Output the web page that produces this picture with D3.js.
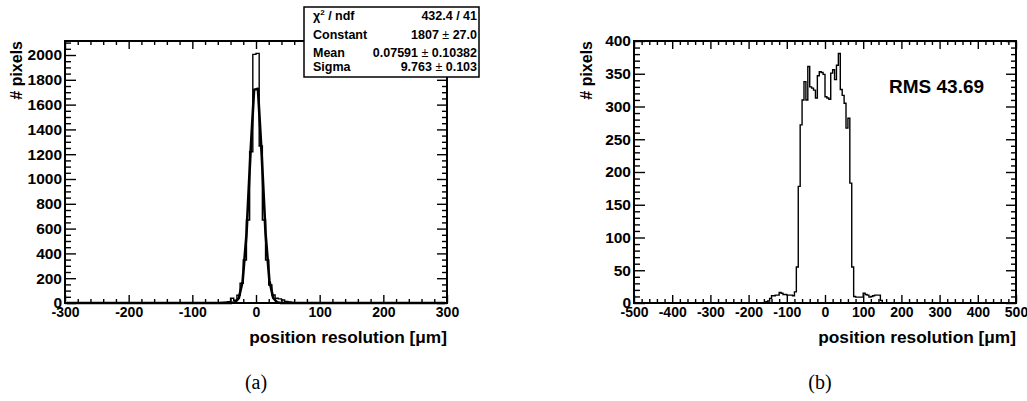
<!DOCTYPE html>
<html>
<head>
<meta charset="utf-8">
<script src="https://cdn.jsdelivr.net/npm/d3@7"></script>
<style>
  html, body { margin: 0; padding: 0; background: #fff; }
  svg { display: block; }
  text { font-family: "Liberation Sans", Arial, Helvetica, sans-serif; font-weight: bold; fill: #000; }
</style>
</head>
<body>
<svg id="fig" width="1027" height="401"></svg>
<script>
// ---- (a) residuals with Gaussian fit, 5 µm bins ----
const aBinWidth = 5;
const aFirstBin = -70;           // low edge of first listed bin; all other bins are empty
const aCounts = [1, 2, 3, 4, 6, 10, 38, 22, 62, 159, 347, 669, 1220, 2005,
                 2013, 1266, 669, 347, 145, 64, 38, 33, 24, 12, 8, 5, 3, 1];
const aRange = [-300, 300];
const aYMax = 2113;
const aXTicks = [-300, -200, -100, 0, 100, 200, 300];
const aYTicks = [0, 200, 400, 600, 800, 1000, 1200, 1400, 1600, 1800, 2000];

// Gaussian fit result
const fitConstant = 1807, fitMean = 0.07591, fitSigma = 9.763;
const fitStats = [
  ["χ2 / ndf", "432.4 / 41"],
  ["Constant", "1807 ± 27.0"],
  ["Mean", "0.07591 ± 0.10382"],
  ["Sigma", "9.763 ± 0.103"]
];

// ---- (b) residuals, 5 µm bins ----
const bBinWidth = 5;
const bFirstBin = -155;
const bCounts = [2, 3, 7, 11, 11, 12, 12, 16, 15, 13, 13, 12, 12, 12, 11, 17,
                 55, 178, 272, 310, 338, 310, 361, 330, 328, 325, 313, 347, 353, 352, 349,
                 315, 313, 311, 351, 356, 341, 363, 381, 326, 317, 305, 267, 282, 183, 55,
                 10, 9, 9, 9, 9, 15, 13, 12, 9, 10, 11, 12, 12, 12, 4];
const bRange = [-500, 500];
const bYMax = 400;
const bXTicks = [-500, -400, -300, -200, -100, 0, 100, 200, 300, 400, 500];
const bYTicks = [0, 50, 100, 150, 200, 250, 300, 350, 400];
const bRms = "RMS 43.69";

const xTitle = "position resolution [μm]";
const yTitle = "# pixels";

const svg = d3.select("#fig");
const plain = d => String(d);   // ASCII hyphen for negative labels

function histPoints(first, width, counts, range) {
  const pts = [[range[0], 0], [first, 0]];
  counts.forEach((c, i) => {
    const lo = first + i * width;
    pts.push([lo, c], [lo + width, c]);
  });
  pts.push([first + counts.length * width, 0], [range[1], 0]);
  return pts;
}

function panel(opts) {
  const { x0, x1, y0, y1, xDomain, yMax, xTicks, xMinorStep, yTicks, yMinorStep } = opts;
  const x = d3.scaleLinear(xDomain, [x0, x1]);
  const y = d3.scaleLinear([0, yMax], [y1, y0]);
  const g = svg.append("g");

  const xMinor = d3.range(xDomain[0], xDomain[1] + 1e-9, xMinorStep).filter(v => !xTicks.includes(v));
  const yMinor = d3.range(0, yMax, yMinorStep).filter(v => !yTicks.includes(v));

  const styleAxis = sel => {
    sel.attr("font-family", null);
    sel.select(".domain").remove();
    sel.selectAll("line").attr("stroke", "#000").attr("stroke-width", 1.4);
  };

  // bottom
  g.append("g").attr("transform", `translate(0,${y1})`)
    .call(d3.axisBottom(x).tickValues(xTicks).tickSize(-8).tickPadding(4).tickFormat(plain))
    .call(styleAxis)
    .call(s => s.selectAll("text").style("font-size", "14px"));
  g.append("g").attr("transform", `translate(0,${y1})`)
    .call(d3.axisBottom(x).tickValues(xMinor).tickSize(-4).tickFormat(""))
    .call(styleAxis);
  // top
  g.append("g").attr("transform", `translate(0,${y0})`)
    .call(d3.axisTop(x).tickValues(xTicks).tickSize(-8).tickFormat(""))
    .call(styleAxis);
  g.append("g").attr("transform", `translate(0,${y0})`)
    .call(d3.axisTop(x).tickValues(xMinor).tickSize(-4).tickFormat(""))
    .call(styleAxis);
  // left
  g.append("g").attr("transform", `translate(${x0},0)`)
    .call(d3.axisLeft(y).tickValues(yTicks).tickSize(-11).tickPadding(3).tickFormat(plain))
    .call(styleAxis)
    .call(s => s.selectAll("text").style("font-size", "15.5px"));
  g.append("g").attr("transform", `translate(${x0},0)`)
    .call(d3.axisLeft(y).tickValues(yMinor).tickSize(-6).tickFormat(""))
    .call(styleAxis);
  // right
  g.append("g").attr("transform", `translate(${x1},0)`)
    .call(d3.axisRight(y).tickValues(yTicks).tickSize(-10).tickFormat(""))
    .call(styleAxis);
  g.append("g").attr("transform", `translate(${x1},0)`)
    .call(d3.axisRight(y).tickValues(yMinor).tickSize(-5).tickFormat(""))
    .call(styleAxis);

  // frame
  g.append("rect")
    .attr("x", x0).attr("y", y0).attr("width", x1 - x0).attr("height", y1 - y0)
    .attr("fill", "none").attr("stroke", "#000").attr("stroke-width", 2);

  // axis titles
  g.append("text")
    .attr("x", x1).attr("y", 343).attr("text-anchor", "end")
    .style("font-size", "17.3px").text(xTitle);
  g.append("text")
    .attr("transform", `translate(${opts.yTitleX},${y0}) rotate(-90)`)
    .attr("text-anchor", "end")
    .style("font-size", "16px").text(yTitle);

  return { g, x, y };
}

// ---------- panel (a) ----------
const A = panel({ x0: 65, x1: 447, y0: 41, y1: 303, xDomain: aRange, yMax: aYMax,
  xTicks: aXTicks, xMinorStep: 20, yTicks: aYTicks, yMinorStep: 50, yTitleX: 22 });

const line = (px, py) => d3.line().x(d => px(d[0])).y(d => py(d[1]));

A.g.append("path")
  .attr("d", line(A.x, A.y)(histPoints(aFirstBin, aBinWidth, aCounts, aRange)))
  .attr("fill", "none").attr("stroke", "#000").attr("stroke-width", 1.4);

// fitted Gaussian, drawn with 100 sample points across the axis range
const fitX = d3.range(aRange[0] + 3, aRange[1], 6);
const gauss = v => fitConstant * Math.exp(-0.5 * ((v - fitMean) / fitSigma) ** 2);
A.g.append("path")
  .attr("d", line(A.x, A.y)(fitX.map(v => [v, gauss(v)])))
  .attr("fill", "none").attr("stroke", "#000").attr("stroke-width", 2.6)
  .attr("stroke-linejoin", "round");

// statistics box
const box = svg.append("g");
box.append("rect").attr("x", 304).attr("y", 7).attr("width", 175).attr("height", 70)
  .attr("fill", "#fff").attr("stroke", "#000").attr("stroke-width", 1.5);
const rowY = [19.5, 38.5, 56.5, 71];
fitStats.forEach(([name, val], i) => {
  const t = box.append("text").attr("x", 313).attr("y", rowY[i]).style("font-size", "12.5px");
  if (i === 0) {
    t.append("tspan").text("χ");
    t.append("tspan").attr("dy", -5).style("font-size", "8px").text("2");
    t.append("tspan").attr("dy", 5).text(" / ndf");
  } else {
    t.text(name);
  }
  const parts = val.split(" ± ");
  const v = box.append("text").attr("x", 477).attr("y", rowY[i]).attr("text-anchor", "end")
    .style("font-size", "12.5px");
  if (parts.length === 2) {
    v.append("tspan").text(parts[0]);
    v.append("tspan").style("font-weight", "normal").text(" ± ");
    v.append("tspan").text(parts[1]);
  } else {
    v.text(val);
  }
});

// ---------- panel (b) ----------
const B = panel({ x0: 634, x1: 1016, y0: 41, y1: 303, xDomain: bRange, yMax: bYMax,
  xTicks: bXTicks, xMinorStep: 20, yTicks: bYTicks, yMinorStep: 10, yTitleX: 592 });

B.g.append("path")
  .attr("d", line(B.x, B.y)(histPoints(bFirstBin, bBinWidth, bCounts, bRange)))
  .attr("fill", "none").attr("stroke", "#000").attr("stroke-width", 1.4);

svg.append("text").attr("x", 889).attr("y", 92.5).style("font-size", "19px").text(bRms);

// sub-figure captions
svg.append("text").attr("x", 256).attr("y", 389).attr("text-anchor", "middle")
  .style("font-family", "'Liberation Serif', 'DejaVu Serif', serif").style("font-weight", "normal")
  .style("font-size", "20px").text("(a)");
svg.append("text").attr("x", 820).attr("y", 389).attr("text-anchor", "middle")
  .style("font-family", "'Liberation Serif', 'DejaVu Serif', serif").style("font-weight", "normal")
  .style("font-size", "20px").text("(b)");
</script>
</body>
</html>
